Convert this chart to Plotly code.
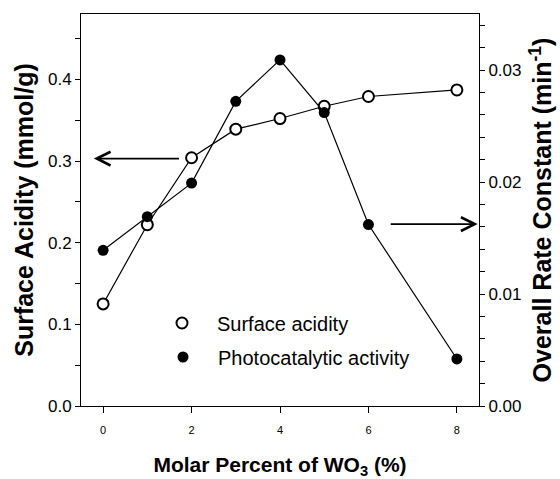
import plotly.graph_objects as go

# Data
wo3_percent = [0, 1, 2, 3, 4, 5, 6, 8]
surface_acidity = [0.125, 0.222, 0.304, 0.339, 0.352, 0.367, 0.379, 0.387]
rate_constant = [0.0139, 0.0169, 0.0199, 0.0272, 0.0309, 0.0262, 0.0162, 0.0042]

x_ticks = [0, 2, 4, 6, 8]

FONT = "Liberation Sans, Arial, sans-serif"
W, H = 560, 479
L, R, T, B = 81, 81, 14, 73

fig = go.Figure()

fig.add_trace(go.Scatter(
    x=wo3_percent, y=surface_acidity, mode="lines+markers",
    line=dict(color="black", width=1.2),
    marker=dict(symbol="circle", size=11, color="white",
                line=dict(color="black", width=2)),
    showlegend=False, yaxis="y"))

fig.add_trace(go.Scatter(
    x=wo3_percent, y=rate_constant, mode="lines+markers",
    line=dict(color="black", width=1.2),
    marker=dict(symbol="circle", size=11, color="black",
                line=dict(color="black", width=0)),
    showlegend=False, yaxis="y2"))

# legend-only entries (markers only, as in the reference)
fig.add_trace(go.Scatter(
    x=[None], y=[None], mode="markers", name="Surface acidity",
    marker=dict(symbol="circle", size=11, color="white",
                line=dict(color="black", width=2)),
    legend="legend"))
fig.add_trace(go.Scatter(
    x=[None], y=[None], mode="markers", name="Photocatalytic activity",
    marker=dict(symbol="circle", size=11, color="black"),
    legend="legend2"))

pw = W - L - R
ph = H - T - B

def px_to_paper(px, py):
    return (px - L) / pw, (H - B - py) / ph

lx1, ly1 = px_to_paper(147, 323)
lx2, ly2 = px_to_paper(148, 357)

legend_common = dict(font=dict(family=FONT, size=20, color="black"),
                     bgcolor="rgba(0,0,0,0)", borderwidth=0,
                     itemwidth=60, xanchor="left", yanchor="middle")

fig.update_layout(
    width=W, height=H,
    margin=dict(l=L, r=R, t=T, b=B, pad=0, autoexpand=False),
    paper_bgcolor="white", plot_bgcolor="white",
    font=dict(family=FONT, color="black"),
    legend=dict(x=lx1, y=ly1, **legend_common),
    legend2=dict(x=lx2, y=ly2, **legend_common),
    xaxis=dict(
        range=[-0.5, 8.5], tickvals=x_ticks, ticks="outside", ticklen=6,
        tickcolor="black", showline=True, linecolor="black", linewidth=1,
        mirror=True, showgrid=False, zeroline=False, ticklabelstandoff=8,
        automargin=False,
        tickfont=dict(family=FONT, size=11, color="black"),
        title=dict(text="<b>Molar Percent of WO<sub>3</sub> (%)</b>",
                   font=dict(family=FONT, size=21, color="black"), standoff=26),
    ),
    yaxis=dict(
        range=[0, 0.48], dtick=0.1, tick0=0, tickformat=".1f",
        ticks="outside", ticklen=5, tickcolor="black",
        showline=True, linecolor="black", linewidth=1,
        showgrid=False, zeroline=False, automargin=False,
        minor=dict(dtick=0.05, tick0=0, ticks="outside", ticklen=5,
                   tickcolor="black", showgrid=False),
        tickfont=dict(family=FONT, size=17, color="black"),
        title=dict(text="<b>Surface Acidity (mmol/g)</b>",
                   font=dict(family=FONT, size=25, color="black"), standoff=7),
    ),
    yaxis2=dict(
        range=[0, 0.035], dtick=0.01, tick0=0, tickformat=".2f",
        overlaying="y", side="right",
        ticks="outside", ticklen=5, tickcolor="black",
        showline=True, linecolor="black", linewidth=1,
        showgrid=False, zeroline=False, automargin=False,
        minor=dict(dtick=0.002, tick0=0, ticks="outside", ticklen=5,
                   tickcolor="black", showgrid=False),
        tickfont=dict(family=FONT, size=17, color="black"),
        title=dict(text="<b>Overall Rate Constant (min<sup>-1</sup>)</b>",
                   font=dict(family=FONT, size=25, color="black"), standoff=13),
    ),
)

# Arrows pointing to the relevant axes
left_arrow = dict(head_x=-0.21, tail_x=1.75, y=0.303)
right_arrow = dict(head_x=8.47, tail_x=6.47, y=0.01624)

fig.add_annotation(x=left_arrow["head_x"], y=left_arrow["y"],
                   ax=left_arrow["tail_x"], ay=left_arrow["y"],
                   xref="x", yref="y", axref="x", ayref="y",
                   showarrow=True, arrowhead=5, arrowsize=1.5, arrowwidth=1.8,
                   arrowcolor="black", text="")
fig.add_annotation(x=right_arrow["head_x"], y=right_arrow["y"],
                   ax=right_arrow["tail_x"], ay=right_arrow["y"],
                   xref="x", yref="y2", axref="x", ayref="y2",
                   showarrow=True, arrowhead=5, arrowsize=1.5, arrowwidth=1.8,
                   arrowcolor="black", text="")

fig.write_html("out.html")
